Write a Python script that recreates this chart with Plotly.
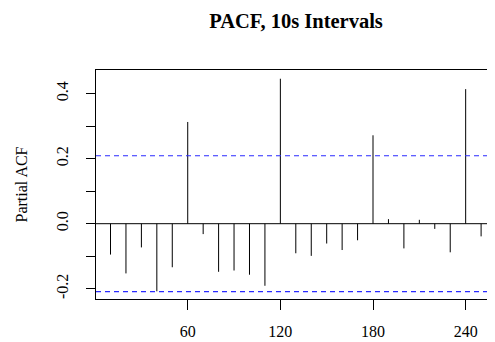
import plotly.graph_objects as go

lags = [10, 20, 30, 40, 50, 60, 70, 80, 90, 100, 110, 120, 130, 140, 150, 160, 170,
        180, 190, 200, 210, 220, 230, 240, 250]
pacf = [-0.095, -0.153, -0.073, -0.208, -0.134, 0.313, -0.032, -0.148, -0.144, -0.157,
        -0.191, 0.446, -0.091, -0.099, -0.061, -0.081, -0.051, 0.272, 0.014, -0.076,
        0.012, -0.016, -0.088, 0.414, -0.039]
ci = 0.209
x_ticks = [60, 120, 180, 240]
y_ticks = [-0.2, -0.1, 0.0, 0.1, 0.2, 0.3, 0.4]
y_ticktext = ["-0.2", "", "0.0", "", "0.2", "", "0.4"]

xs, ys = [], []
for l, v in zip(lags, pacf):
    xs += [l, l, None]
    ys += [0, v, None]

FONT = "Liberation Serif"
# page has an 8px body margin; figure is sized so the visible window matches
OFF = 8
W, H = 495 - OFF, 342 - OFF
L, R, T, B = 96 - OFF, 0, 70 - OFF, 43

fig = go.Figure()
fig.add_trace(go.Scatter(x=xs, y=ys, mode="lines", line=dict(color="black", width=1),
                         hoverinfo="skip", showlegend=False))

fig.add_shape(type="line", xref="paper", yref="y", x0=0, x1=1, y0=0, y1=0,
              line=dict(color="black", width=1))
for c in (ci, -ci):
    fig.add_shape(type="line", xref="paper", yref="y", x0=0, x1=1, y0=c, y1=c,
                  line=dict(color="#2a2aff", width=1.2, dash="5px,4px"))

fig.add_annotation(text="Partial ACF", textangle=-90, xref="paper", yref="paper",
                   x=(21 - OFF - L) / (W - L - R), y=0.5, xanchor="center", yanchor="middle",
                   showarrow=False, font=dict(family=FONT, size=16, color="black"))

fig.update_layout(
    width=W, height=H,
    margin=dict(l=L, r=R, t=T, b=B, autoexpand=False),
    paper_bgcolor="white", plot_bgcolor="white",
    font=dict(family=FONT, size=16, color="black"),
    title=dict(text="<b>PACF, 10s Intervals</b>", font=dict(family=FONT, size=20.5),
               x=(296 - OFF) / W, xanchor="center", y=1 - (21 - OFF) / H, yanchor="middle",
               xref="container", yref="container", automargin=False),
    showlegend=False,
)
fig.update_xaxes(range=[0.6, 259.0], tickvals=x_ticks, ticktext=[str(t) for t in x_ticks],
                 ticks="outside", ticklen=10, tickcolor="black", showgrid=False, zeroline=False,
                 showline=True, linecolor="black", linewidth=1, mirror=True, automargin=False,
                 ticklabelstandoff=8,
                 tickfont=dict(family=FONT, size=16, color="black"))
fig.update_yaxes(range=[-0.2317, 0.4729], tickvals=y_ticks, ticktext=y_ticktext,
                 tickangle=-90, ticks="outside", ticklen=9, tickcolor="black",
                 showgrid=False, zeroline=False, automargin=False,
                 showline=True, linecolor="black", linewidth=1, mirror=True,
                 ticklabelstandoff=12,
                 tickfont=dict(family=FONT, size=16, color="black"))

fig.write_html("out.html")
